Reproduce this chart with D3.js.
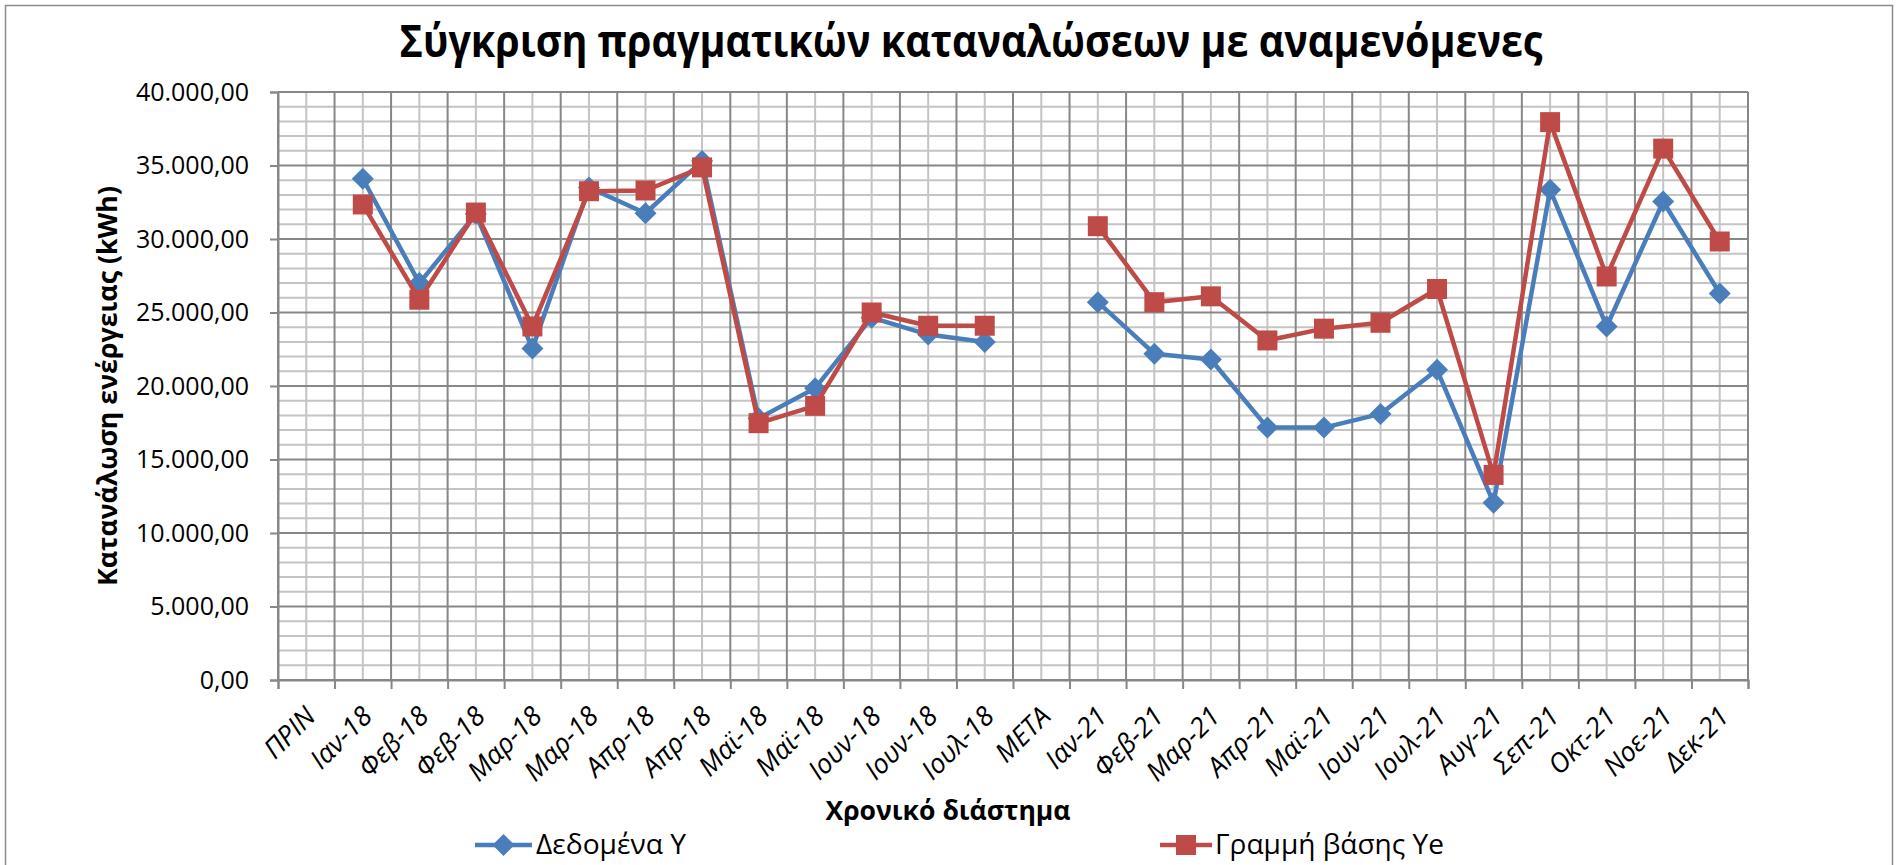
<!DOCTYPE html>
<html>
<head>
<meta charset="utf-8">
<script src="https://cdn.jsdelivr.net/npm/d3@7"></script>
<style>
  html, body { margin: 0; padding: 0; background: #fff; }
  svg { display: block; font-family: "Open Sans", "Noto Sans", sans-serif; }
</style>
</head>
<body>
<svg id="chart" width="1897" height="865"></svg>
<script>
// κατηγορίες του άξονα Χ (υπάρχουν διπλές ετικέτες, οπότε δουλεύουμε με δείκτες)
const categories = [
  'ΠΡΙΝ', 'Ιαν-18', 'Φεβ-18', 'Φεβ-18', 'Μαρ-18', 'Μαρ-18', 'Απρ-18', 'Απρ-18',
  'Μαϊ-18', 'Μαϊ-18', 'Ιουν-18', 'Ιουν-18', 'Ιουλ-18', 'ΜΕΤΑ',
  'Ιαν-21', 'Φεβ-21', 'Μαρ-21', 'Απρ-21', 'Μαϊ-21', 'Ιουν-21', 'Ιουλ-21',
  'Αυγ-21', 'Σεπ-21', 'Οκτ-21', 'Νοε-21', 'Δεκ-21',
]

// Δεδομένα Y (kWh)
const actualValues = [
  null, 34100, 27000, 31700, 22550, 33500, 31750, 35300,
  17800, 19850, 24650, 23500, 23000, null,
  25700, 22200, 21800, 17170, 17170, 18100, 21100,
  12050, 33350, 24050, 32550, 26300,
]

// Γραμμή βάσης Ye (kWh)
const baselineValues = [
  null, 32350, 25870, 31800, 24050, 33250, 33300, 34870,
  17470, 18650, 25000, 24100, 24100, null,
  30870, 25700, 26100, 23100, 23900, 24300, 26600,
  13950, 37950, 27450, 36150, 29830,
]

const seriesNames = ['Δεδομένα Y', 'Γραμμή βάσης Ye']
const yTicks = [0, 5000, 10000, 15000, 20000, 25000, 30000, 35000, 40000]
const yMinorStep = 1000

const titleText = 'Σύγκριση πραγματικών καταναλώσεων με αναμενόμενες'
const yTitleText = 'Κατανάλωση ενέργειας (kWh)'
const xTitleText = 'Χρονικό διάστημα'

const COLORS = {
  actual: '#4a7ebb',
  baseline: '#be4b48',
  gridMajor: '#878787',
  gridMinor: '#c4c4c4',
  text: '#000',
}

const svg = d3.select('#chart')
const plot = {left: 278, right: 1748, top: 92, bottom: 680}

// μορφή αριθμών ελληνικής τοπικής ρύθμισης: 40.000,00
const grLocale = d3.formatLocale({decimal: ',', thousands: '.', grouping: [3], currency: ['', ' €']})
const fmt = grLocale.format(',.2f')

// κλίμακες
const x = d3.scaleLinear().domain([0, categories.length]).range([plot.left, plot.right])
const y = d3.scaleLinear().domain([0, 40000]).range([plot.bottom, plot.top])
const cx = (i) => x(i + 0.5)

// εξωτερικό πλαίσιο
svg.append('rect')
  .attr('x', 5.5).attr('y', 5.5)
  .attr('width', 1887).attr('height', 880)
  .attr('fill', 'none')
  .attr('stroke', '#8c8c8c')
  .attr('stroke-width', 1.5)

// τίτλος
svg.append('text')
  .attr('x', 971).attr('y', 57)
  .attr('text-anchor', 'middle')
  .attr('font-size', 44)
  .attr('font-weight', 'bold')
  .attr('textLength', 1143)
  .attr('lengthAdjust', 'spacingAndGlyphs')
  .text(titleText)

// πλέγμα
const grid = svg.append('g').attr('class', 'grid')
const minorY = d3.range(0, 40001, yMinorStep).filter((v) => v % 5000 !== 0)
const majorX = d3.range(0, categories.length + 1)
const minorX = d3.range(categories.length).map((i) => i + 0.5)

grid.selectAll('line.minor-y').data(minorY).join('line')
  .attr('class', 'minor-y')
  .attr('x1', plot.left).attr('x2', plot.right)
  .attr('y1', (d) => y(d)).attr('y2', (d) => y(d))
  .attr('stroke', COLORS.gridMinor).attr('stroke-width', 2)

grid.selectAll('line.minor-x').data(minorX).join('line')
  .attr('class', 'minor-x')
  .attr('x1', (d) => x(d)).attr('x2', (d) => x(d))
  .attr('y1', plot.top).attr('y2', plot.bottom)
  .attr('stroke', COLORS.gridMinor).attr('stroke-width', 2)

grid.selectAll('line.major-y').data(yTicks).join('line')
  .attr('class', 'major-y')
  .attr('x1', plot.left).attr('x2', plot.right)
  .attr('y1', (d) => y(d)).attr('y2', (d) => y(d))
  .attr('stroke', COLORS.gridMajor).attr('stroke-width', 2)

grid.selectAll('line.major-x').data(majorX).join('line')
  .attr('class', 'major-x')
  .attr('x1', (d) => x(d)).attr('x2', (d) => x(d))
  .attr('y1', plot.top).attr('y2', plot.bottom)
  .attr('stroke', COLORS.gridMajor).attr('stroke-width', 2)

// άξονας Υ
const yAxis = svg.append('g')
  .attr('transform', `translate(${plot.left},0)`)
  .call(d3.axisLeft(y).tickValues(yTicks).tickSize(8).tickPadding(21).tickFormat(fmt))
yAxis.select('.domain').attr('stroke', COLORS.gridMajor).attr('stroke-width', 2)
yAxis.selectAll('.tick line').attr('stroke', COLORS.gridMajor).attr('stroke-width', 2)
yAxis.selectAll('.tick text')
  .attr('font-family', '"Open Sans", sans-serif')
  .attr('font-size', 25)
  .attr('fill', COLORS.text)

// άξονας Χ - γραμμές υποδιαίρεσης στα όρια των κατηγοριών
const xAxis = svg.append('g')
  .attr('transform', `translate(0,${plot.bottom})`)
  .call(d3.axisBottom(x).tickValues(majorX).tickSize(9).tickFormat(''))
xAxis.select('.domain').attr('stroke', COLORS.gridMajor).attr('stroke-width', 2)
xAxis.selectAll('.tick line').attr('stroke', COLORS.gridMajor).attr('stroke-width', 2)

// ετικέτες κατηγοριών (πλάγιες, -45°)
svg.append('g').attr('class', 'x-labels')
  .selectAll('text').data(categories).join('text')
  .attr('transform', (d, i) => `translate(${cx(i) + 11},${718}) rotate(-45)`)
  .attr('text-anchor', 'end')
  .attr('font-size', 27)
  .attr('font-style', 'italic')
  .attr('fill', COLORS.text)
  .text((d) => d)

// τίτλοι αξόνων
svg.append('text')
  .attr('transform', `translate(117,${(plot.top + plot.bottom) / 2}) rotate(-90)`)
  .attr('text-anchor', 'middle')
  .attr('font-size', 26)
  .attr('font-weight', 'bold')
  .attr('textLength', 400)
  .attr('lengthAdjust', 'spacingAndGlyphs')
  .text(yTitleText)

svg.append('text')
  .attr('x', 948).attr('y', 820)
  .attr('text-anchor', 'middle')
  .attr('font-size', 26)
  .attr('font-weight', 'bold')
  .attr('textLength', 245)
  .attr('lengthAdjust', 'spacingAndGlyphs')
  .text(xTitleText)

// σύμβολα σειρών
const diamond = (s) => `M0,${-s}L${s},0L0,${s}L${-s},0Z`
const square = (s) => `M${-s},${-s}H${s}V${s}H${-s}Z`

const series = [
  {name: seriesNames[0], values: actualValues, color: COLORS.actual, marker: diamond(11)},
  {name: seriesNames[1], values: baselineValues, color: COLORS.baseline, marker: square(10)},
]

const line = d3.line()
  .defined((d) => d != null)
  .x((d, i) => cx(i))
  .y((d) => y(d))

const seriesG = svg.append('g').attr('class', 'series')
  .selectAll('g').data(series).join('g')

seriesG.append('path')
  .attr('d', (s) => line(s.values))
  .attr('fill', 'none')
  .attr('stroke', (s) => s.color)
  .attr('stroke-width', 4.5)
  .attr('stroke-linejoin', 'round')

seriesG.each(function (s) {
  d3.select(this).selectAll('path.marker')
    .data(s.values.map((v, i) => ({v, i})).filter((d) => d.v != null))
    .join('path')
    .attr('class', 'marker')
    .attr('transform', (d) => `translate(${cx(d.i)},${y(d.v)})`)
    .attr('d', s.marker)
    .attr('fill', s.color)
})

// υπόμνημα
const legendItems = [
  {series: series[0], x1: 475, x2: 532, tx: 536, len: 150},
  {series: series[1], x1: 1160, x2: 1212, tx: 1215, len: 229},
]
const legendY = 845
const legend = svg.append('g').attr('class', 'legend')
  .selectAll('g').data(legendItems).join('g')

legend.append('line')
  .attr('x1', (d) => d.x1).attr('x2', (d) => d.x2)
  .attr('y1', legendY).attr('y2', legendY)
  .attr('stroke', (d) => d.series.color)
  .attr('stroke-width', 4.5)

legend.append('path')
  .attr('transform', (d) => `translate(${(d.x1 + d.x2) / 2},${legendY})`)
  .attr('d', (d) => d.series.marker)
  .attr('fill', (d) => d.series.color)

legend.append('text')
  .attr('x', (d) => d.tx).attr('y', legendY)
  .attr('dy', '0.35em')
  .attr('font-size', 27)
  .attr('textLength', (d) => d.len)
  .attr('lengthAdjust', 'spacingAndGlyphs')
  .attr('fill', COLORS.text)
  .text((d) => d.series.name)
</script>
</body>
</html>
